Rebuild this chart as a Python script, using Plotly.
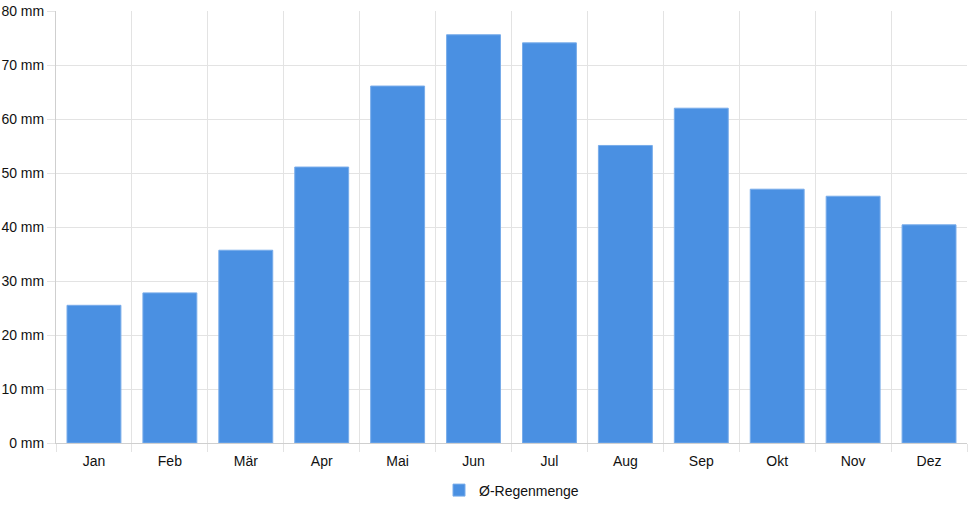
import plotly.graph_objects as go

# monthly average rainfall
months = ["Jan", "Feb", "Mär", "Apr", "Mai", "Jun", "Jul", "Aug", "Sep", "Okt", "Nov", "Dez"]
rain_mm = [25.5, 27.8, 35.7, 51.1, 66.1, 75.6, 74.1, 55.1, 62.0, 47.0, 45.7, 40.4]
series_name = "Ø-Regenmenge"

BAR_COLOR = "#4a90e2"
GRID = "#e3e3e3"
FONT = "Liberation Sans, Arial, sans-serif"

fig = go.Figure()
fig.add_trace(
    go.Bar(
        x=months,
        y=rain_mm,
        name=series_name,
        marker=dict(color=BAR_COLOR, line=dict(color="#78acea", width=1)),
        showlegend=True,
    )
)

fig.update_layout(
    width=968,
    height=508,
    margin=dict(l=56, r=1, t=11, b=65, autoexpand=False),
    plot_bgcolor="white",
    paper_bgcolor="white",
    font=dict(family=FONT, size=14, color="#111"),
    bargap=0.29,
    legend=dict(
        orientation="h",
        x=0.5,
        xanchor="center",
        y=-0.11,
        yanchor="middle",
        font=dict(size=14),
    ),
    xaxis=dict(
        type="category",
        tickson="boundaries",
        showgrid=True,
        gridcolor=GRID,
        showline=True,
        linecolor="#cfcfcf",
        ticks="outside",
        ticklen=8,
        tickcolor=GRID,
        zeroline=False,
        ticklabelstandoff=5,
    ),
    yaxis=dict(
        range=[0, 80],
        dtick=10,
        ticksuffix=" mm",
        showgrid=True,
        gridcolor=GRID,
        showline=True,
        linecolor="#cfcfcf",
        ticks="outside",
        ticklen=8,
        tickcolor=GRID,
        zeroline=False,
        ticklabeloverflow="allow",
    ),
)

# drop the default 8px page margin so the figure fills the window
fig.write_html(
    "out.html",
    config={"displayModeBar": False},
    post_script="document.body.style.margin = '0';",
)
